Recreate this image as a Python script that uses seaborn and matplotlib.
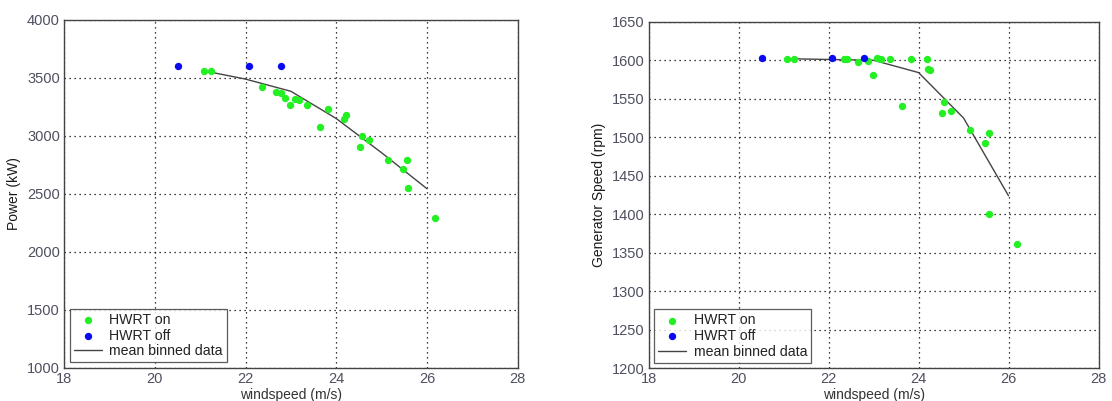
import matplotlib
matplotlib.use("Agg")
import matplotlib.pyplot as plt
import seaborn as sns
import pandas as pd

# ---- Left panel: Power ----
p_on_ws = [21.08, 21.24, 22.36, 22.67, 22.78, 22.88, 22.98, 23.08, 23.17, 23.36, 23.64,
           23.81, 24.18, 24.22, 24.53, 24.56, 24.73, 25.14, 25.47, 25.56, 25.59, 26.17]
p_on_kw = [3558, 3564, 3423, 3377, 3368, 3325, 3265, 3319, 3313, 3271, 3073,
           3228, 3142, 3182, 2906, 2998, 2964, 2792, 2712, 2794, 2548, 2292]
p_off_ws = [20.51, 22.08, 22.78]
p_off_kw = [3600, 3600, 3600]
p_bin_ws = [21.1, 22.0, 23.0, 24.0, 25.0, 26.0]
p_bin_kw = [3560, 3490, 3385, 3150, 2855, 2545]

# ---- Right panel: Generator speed ----
g_on_ws = [21.08, 21.23, 22.35, 22.40, 22.66, 22.87, 22.98, 23.07, 23.17, 23.37, 23.64, 23.83,
           24.19, 24.20, 24.25, 24.52, 24.56, 24.73, 25.15, 25.48, 25.56, 25.57, 26.18]
g_on_rpm = [1602, 1602, 1602, 1602, 1598, 1599, 1581, 1603, 1602, 1602, 1541, 1602,
            1602, 1589, 1587, 1531, 1546, 1534, 1510, 1492, 1505, 1401, 1361]
g_off_ws = [20.52, 22.08, 22.78]
g_off_rpm = [1603, 1603, 1603]
g_bin_ws = [21.1, 22.0, 23.0, 24.0, 25.0, 26.0]
g_bin_rpm = [1602, 1601, 1600, 1584, 1525, 1424]

sns.set_style("white")
plt.rcParams['font.family'] = ['Liberation Sans', 'DejaVu Sans']

GREEN = '#22f022'
BLUE = '#0a0af0'
TICKC = '#4f5060'

fig = plt.figure(figsize=(11.12, 4.01), dpi=100)
ax1 = fig.add_axes([0.0576, 0.0823, 0.408, 0.868])
ax2 = fig.add_axes([0.5832, 0.0815, 0.4047, 0.8643])


def panel(ax, on_x, on_y, off_x, off_y, bx, by, ylim, yticks, ylabel):
    sns.scatterplot(x=on_x, y=on_y, ax=ax, color=GREEN, s=28, linewidth=0,
                    label='HWRT on', zorder=3)
    sns.scatterplot(x=off_x, y=off_y, ax=ax, color=BLUE, s=28, linewidth=0,
                    label='HWRT off', zorder=3)
    sns.lineplot(x=bx, y=by, ax=ax, color='#444444', linewidth=1.0,
                 label='mean binned data', zorder=2)
    ax.set_xlim(18, 28)
    ax.set_ylim(*ylim)
    ax.set_xticks([18, 20, 22, 24, 26, 28])
    ax.set_yticks(yticks)
    ax.grid(True, color='black', linestyle=(0, (1, 3)), linewidth=0.9)
    ax.set_axisbelow(True)
    for s in ax.spines.values():
        s.set_color('#444444')
        s.set_linewidth(1.0)
        s.set_visible(True)
    ax.tick_params(axis='both', labelsize=10.5, colors='#444444', labelcolor=TICKC,
                   length=3, direction='in', pad=3)
    ax.set_xlabel('windspeed (m/s)', fontsize=10, color='#333333', labelpad=1)
    ax.set_ylabel(ylabel, fontsize=10, color='#1a1a1a', labelpad=4)
    leg = ax.legend(loc='lower left', fontsize=10.2, frameon=True, fancybox=False,
                    borderpad=0.28, labelspacing=0.12, handlelength=2.0,
                    handletextpad=0.5, borderaxespad=0.4)
    leg.get_frame().set_edgecolor('#333333')
    leg.get_frame().set_linewidth(0.9)
    for t in leg.get_texts():
        t.set_color('#222222')


panel(ax1, p_on_ws, p_on_kw, p_off_ws, p_off_kw, p_bin_ws, p_bin_kw,
      (1000, 4000), [1000, 1500, 2000, 2500, 3000, 3500, 4000], 'Power (kW)')
panel(ax2, g_on_ws, g_on_rpm, g_off_ws, g_off_rpm, g_bin_ws, g_bin_rpm,
      (1200, 1650), list(range(1200, 1651, 50)), 'Generator Speed (rpm)')

fig.savefig('out.png', dpi=100)
